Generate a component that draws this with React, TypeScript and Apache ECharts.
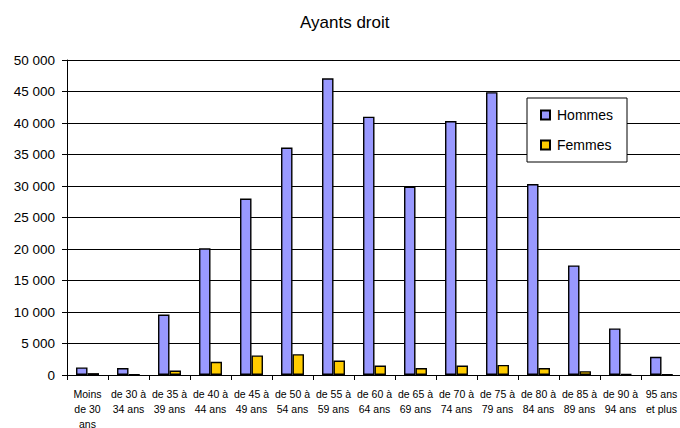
import React, { useEffect, useRef } from "react";
import * as echarts from "echarts";

const categories = [
  "Moins\nde 30\nans",
  "de 30 à\n34 ans",
  "de 35 à\n39 ans",
  "de 40 à\n44 ans",
  "de 45 à\n49 ans",
  "de 50 à\n54 ans",
  "de 55 à\n59 ans",
  "de 60 à\n64 ans",
  "de 65 à\n69 ans",
  "de 70 à\n74 ans",
  "de 75 à\n79 ans",
  "de 80 à\n84 ans",
  "de 85 à\n89 ans",
  "de 90 à\n94 ans",
  "95 ans\net plus",
];

const hommes = [1200, 1100, 9600, 20100, 28000, 36100, 47100, 41000, 29900, 40300, 44900, 30300, 17400, 7400, 2900];
const femmes = [300, 60, 700, 2100, 3100, 3300, 2300, 1500, 1100, 1500, 1600, 1100, 600, 160, 60];

const FONT = "'Liberation Sans', Arial, sans-serif";

function fmt(v: number): string {
  return String(v).replace(/\B(?=(\d{3})+(?!\d))/g, " ");
}

export default function App() {
  const ref = useRef<HTMLDivElement>(null);
  useEffect(() => {
    if (!ref.current) return;
    const chart = echarts.init(ref.current, undefined, { renderer: "svg" });
    chart.setOption({
      animation: false,
      backgroundColor: "#ffffff",
      textStyle: { fontFamily: FONT },
      title: {
        text: "Ayants droit",
        left: 300,
        top: 14,
        padding: 0,
        textStyle: { fontFamily: FONT, fontSize: 17, fontWeight: "normal", color: "#000" },
      },
      legend: {
        orient: "vertical",
        left: 527,
        top: 98,
        padding: [9, 14, 9, 13],
        itemGap: 14,
        itemWidth: 9,
        itemHeight: 9,
        borderColor: "#000",
        borderWidth: 1,
        backgroundColor: "#fff",
        textStyle: { fontFamily: FONT, fontSize: 14, color: "#000", lineHeight: 16, padding: [0, 0, 0, 2] },
        data: [
          { name: "Hommes", icon: "rect" },
          { name: "Femmes", icon: "rect" },
        ],
      },
      grid: { left: 67, top: 60, width: 615, height: 315, containLabel: false, outerBoundsMode: "none" },
      xAxis: {
        type: "category",
        data: categories,
        boundaryGap: true,
        axisLine: { show: true, lineStyle: { color: "#000", width: 1 } },
        axisTick: { show: true, length: 5, lineStyle: { color: "#000" } },
        axisLabel: {
          interval: 0,
          fontFamily: FONT,
          fontSize: 10.5,
          lineHeight: 15,
          color: "#000",
          margin: 11,
        },
        splitLine: { show: false },
      },
      yAxis: {
        type: "value",
        min: 0,
        max: 50000,
        interval: 5000,
        axisLine: { show: true, lineStyle: { color: "#000", width: 1 } },
        axisTick: { show: true, length: 5, lineStyle: { color: "#000" } },
        axisLabel: {
          fontFamily: FONT,
          fontSize: 13.5,
          color: "#000",
          margin: 12,
          formatter: (v: number) => fmt(v),
        },
        splitLine: { show: true, lineStyle: { color: "#000", width: 1 } },
      },
      series: [
        {
          name: "Hommes",
          type: "bar",
          data: hommes,
          barGap: "0%",
          barCategoryGap: "44%",
          itemStyle: { color: "#9999FF", borderColor: "#000", borderWidth: 1.4 },
        },
        {
          name: "Femmes",
          type: "bar",
          data: femmes,
          barGap: "0%",
          barCategoryGap: "44%",
          itemStyle: { color: "#FFCC00", borderColor: "#000", borderWidth: 1.4 },
        },
      ],
    });
    return () => chart.dispose();
  }, []);
  return (
    <div
      ref={ref}
      style={{ position: "absolute", left: 0, top: 0, width: 680, height: 428, overflow: "hidden" }}
    />
  );
}
